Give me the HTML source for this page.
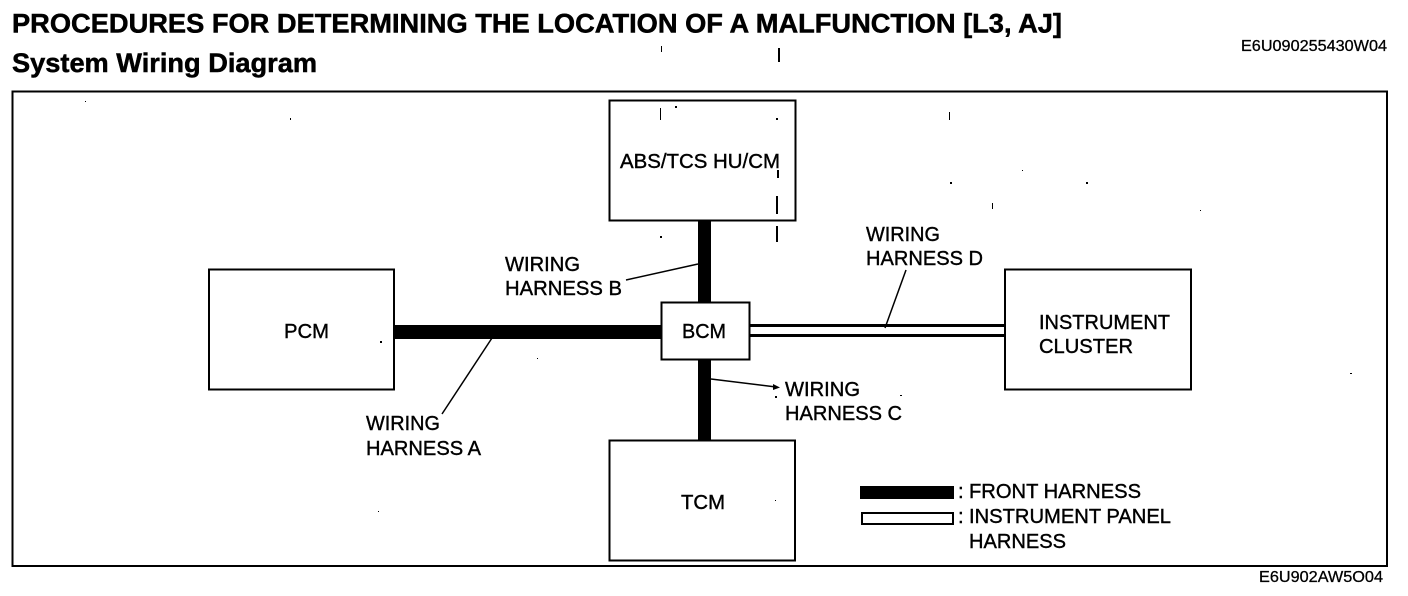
<!DOCTYPE html>
<html>
<head>
<meta charset="utf-8">
<style>
html,body{margin:0;padding:0;background:#fff;width:1408px;height:596px;overflow:hidden}
svg{display:block}
text{font-family:"Liberation Sans",sans-serif;fill:#000}
.h{font-size:27px;font-weight:bold;stroke:#000;stroke-width:.5px}
.t{font-size:20.5px;stroke:#000;stroke-width:.4px}
.c{font-size:16px;stroke:#000;stroke-width:.3px}
</style>
</head>
<body>
<svg width="1408" height="596" viewBox="0 0 1408 596" xmlns="http://www.w3.org/2000/svg">
<rect width="1408" height="596" fill="#fff"/>

<text class="h" x="12" y="32.5" textLength="1050" lengthAdjust="spacingAndGlyphs">PROCEDURES FOR DETERMINING THE LOCATION OF A MALFUNCTION [L3, AJ]</text>
<text class="h" x="12" y="72" textLength="305" lengthAdjust="spacingAndGlyphs">System Wiring Diagram</text>
<text class="c" x="1241" y="51" textLength="146" lengthAdjust="spacingAndGlyphs">E6U090255430W04</text>
<text class="c" x="1259" y="582" textLength="124" lengthAdjust="spacingAndGlyphs">E6U902AW5O04</text>

<g shape-rendering="crispEdges" fill="none" stroke="#000">
<rect x="12.5" y="91.5" width="1374.5" height="474.5" stroke-width="2"/>
<rect x="609.5" y="100.5" width="186" height="120" stroke-width="2"/>
<rect x="209" y="269.5" width="185" height="120" stroke-width="2"/>
<rect x="1005" y="269.5" width="186" height="120" stroke-width="2"/>
<rect x="609.5" y="440.5" width="185.5" height="120" stroke-width="2"/>
<rect x="661.5" y="302.5" width="88" height="57" stroke-width="2"/>
</g>

<g shape-rendering="crispEdges" fill="#000">
<rect x="394" y="325" width="267" height="14"/>
<rect x="698" y="220" width="13" height="82"/>
<rect x="698" y="360" width="13" height="80"/>
<rect x="750" y="324" width="255" height="3"/>
<rect x="750" y="334" width="255" height="3"/>
<rect x="860" y="486" width="94" height="13"/>
</g>
<rect x="862" y="513" width="91" height="11" fill="#fff" stroke="#000" stroke-width="2" shape-rendering="crispEdges"/>

<g stroke="#000" stroke-width="1.5" fill="none">
<line x1="626" y1="280" x2="698" y2="264"/>
<line x1="906" y1="270" x2="885" y2="328"/>
<line x1="442" y1="414" x2="492" y2="338"/>
<line x1="711" y1="379" x2="776" y2="387"/>
</g>
<polygon points="773,384 780,387.5 773,390" fill="#000"/>

<text class="t" x="620" y="168" textLength="160" lengthAdjust="spacingAndGlyphs">ABS/TCS HU/CM</text>
<text class="t" x="284" y="338" textLength="45" lengthAdjust="spacingAndGlyphs">PCM</text>
<text class="t" x="682" y="338" textLength="44" lengthAdjust="spacingAndGlyphs">BCM</text>
<text class="t" x="681" y="509" textLength="44" lengthAdjust="spacingAndGlyphs">TCM</text>
<text class="t" x="1039" y="329" textLength="131" lengthAdjust="spacingAndGlyphs">INSTRUMENT</text>
<text class="t" x="1039" y="353" textLength="94" lengthAdjust="spacingAndGlyphs">CLUSTER</text>

<text class="t" x="505" y="271" textLength="75" lengthAdjust="spacingAndGlyphs">WIRING</text>
<text class="t" x="505" y="295" textLength="117" lengthAdjust="spacingAndGlyphs">HARNESS B</text>
<text class="t" x="866" y="241" textLength="74" lengthAdjust="spacingAndGlyphs">WIRING</text>
<text class="t" x="866" y="265" textLength="117" lengthAdjust="spacingAndGlyphs">HARNESS D</text>
<text class="t" x="366" y="430" textLength="74" lengthAdjust="spacingAndGlyphs">WIRING</text>
<text class="t" x="366" y="455" textLength="115" lengthAdjust="spacingAndGlyphs">HARNESS A</text>
<text class="t" x="785" y="396" textLength="75" lengthAdjust="spacingAndGlyphs">WIRING</text>
<text class="t" x="785" y="420" textLength="117" lengthAdjust="spacingAndGlyphs">HARNESS C</text>

<text class="t" x="958" y="498">:</text>
<text class="t" x="969" y="498" textLength="172" lengthAdjust="spacingAndGlyphs">FRONT HARNESS</text>
<text class="t" x="958" y="523">:</text>
<text class="t" x="969" y="523" textLength="202" lengthAdjust="spacingAndGlyphs">INSTRUMENT PANEL</text>
<text class="t" x="969" y="548" textLength="97" lengthAdjust="spacingAndGlyphs">HARNESS</text>

<g fill="#000" shape-rendering="crispEdges">
<rect x="778" y="48" width="2" height="14"/>
<rect x="661" y="46" width="1" height="6"/>
<rect x="776" y="226" width="2" height="16"/>
<rect x="777" y="170" width="2" height="8"/>
<rect x="776" y="196" width="2" height="18"/>
<rect x="675" y="106" width="2" height="2"/>
<rect x="776" y="118" width="2" height="2"/>
<rect x="660" y="108" width="1" height="12"/>
<rect x="660" y="236" width="2" height="2"/>
<rect x="290" y="118" width="1" height="2"/>
<rect x="85" y="101" width="1" height="1"/>
<rect x="950" y="182" width="2" height="2"/>
<rect x="1086" y="182" width="2" height="2"/>
<rect x="1022" y="170" width="1" height="1"/>
<rect x="949" y="112" width="1" height="8"/>
<rect x="992" y="203" width="1" height="6"/>
<rect x="1200" y="210" width="1" height="1"/>
<rect x="380" y="341" width="2" height="2"/>
<rect x="537" y="358" width="1" height="1"/>
<rect x="1350" y="373" width="2" height="1"/>
<rect x="775" y="396" width="2" height="2"/>
<rect x="900" y="395" width="2" height="1"/>
<rect x="775" y="500" width="1" height="1"/>
<rect x="378" y="511" width="1" height="1"/>
</g>
</svg>
</body>
</html>
